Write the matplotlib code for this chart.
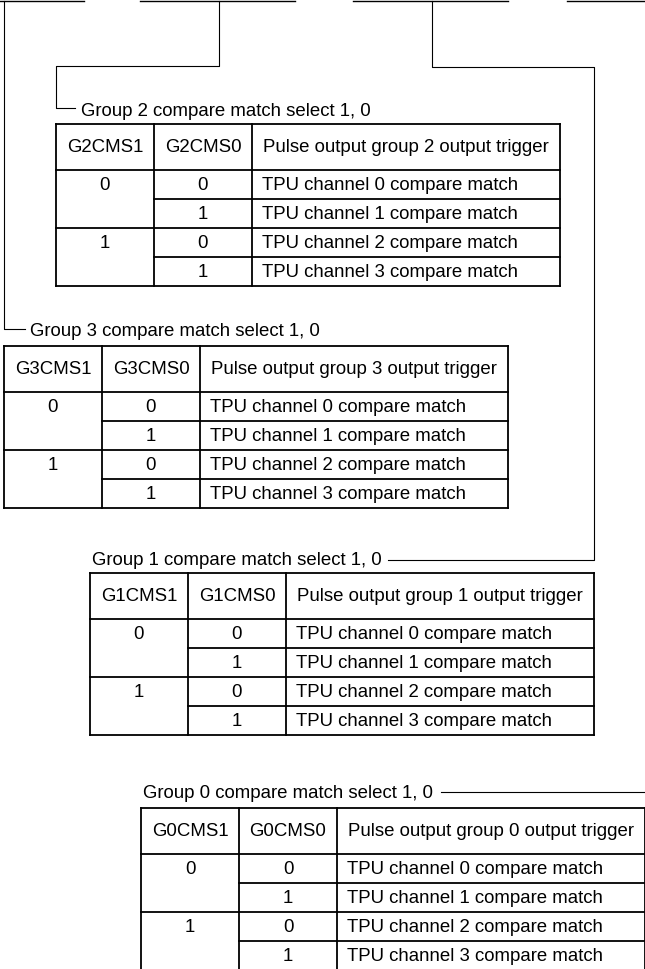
import matplotlib.pyplot as plt

plt.rcParams['font.family'] = ['Liberation Sans', 'DejaVu Sans']

# table contents
groups = [2, 3, 1, 0]
cms1_values = ['0', '', '1', '']
cms0_values = ['0', '1', '0', '1']
triggers = ['TPU channel 0 compare match',
            'TPU channel 1 compare match',
            'TPU channel 2 compare match',
            'TPU channel 3 compare match']

# layout (pixels, origin top-left)
table_left = {2: 56, 3: 4, 1: 90, 0: 141}
table_top = {2: 125, 3: 347, 1: 574, 0: 809}
label_pos = {2: (81, 111), 3: (30, 332), 1: (92, 561), 0: (143, 794)}
col_w = [98, 98, 308]
head_h = 46
row_h = 29

fs = 13.4
lw_tab = 1.3
lw_con = 0.8

fig = plt.figure(figsize=(6.45, 9.70), dpi=100)
ax = fig.add_axes([0, 0, 1, 1])
ax.set_xlim(0, 645)
ax.set_ylim(970, 0)
ax.axis('off')


def line(xs, ys, lw=lw_con):
    ax.plot(xs, ys, color='black', lw=lw, solid_capstyle='projecting')


def draw_table(g):
    x0 = table_left[g]
    y0 = table_top[g]
    xs = [x0, x0 + col_w[0], x0 + col_w[0] + col_w[1], x0 + sum(col_w)]
    ys = [y0, y0 + head_h] + [y0 + head_h + row_h * (i + 1) for i in range(4)]
    # outer box and column lines
    for x in xs:
        line([x, x], [ys[0], ys[-1]], lw_tab)
    line([xs[0], xs[-1]], [ys[0], ys[0]], lw_tab)
    line([xs[0], xs[-1]], [ys[1], ys[1]], lw_tab)
    line([xs[0], xs[-1]], [ys[3], ys[3]], lw_tab)
    line([xs[0], xs[-1]], [ys[-1], ys[-1]], lw_tab)
    line([xs[1], xs[-1]], [ys[2], ys[2]], lw_tab)
    line([xs[1], xs[-1]], [ys[4], ys[4]], lw_tab)
    # header
    hy = (ys[0] + ys[1]) / 2
    ax.text((xs[0] + xs[1]) / 2, hy, 'G%dCMS1' % g, ha='center', va='center', fontsize=fs)
    ax.text((xs[1] + xs[2]) / 2, hy, 'G%dCMS0' % g, ha='center', va='center', fontsize=fs)
    ax.text((xs[2] + xs[3]) / 2, hy, 'Pulse output group %d output trigger' % g,
            ha='center', va='center', fontsize=fs)
    for i in range(4):
        ry = (ys[i + 1] + ys[i + 2]) / 2
        ax.text((xs[0] + xs[1]) / 2, ry, cms1_values[i], ha='center', va='center', fontsize=fs)
        ax.text((xs[1] + xs[2]) / 2, ry, cms0_values[i], ha='center', va='center', fontsize=fs)
        ax.text(xs[2] + 10, ry, triggers[i], ha='left', va='center', fontsize=fs)
    lx, lyy = label_pos[g]
    ax.text(lx, lyy, 'Group %d compare match select 1, 0' % g, ha='left', va='center', fontsize=fs)


for g in groups:
    draw_table(g)

# register bit lines at top
for a, b in [(0, 84), (140, 295), (353, 508), (567, 645)]:
    line([a, b], [2, 2], 1.0)

# connectors
line([219, 219, 56, 56, 75], [2, 67, 67, 109, 109])
line([4, 4, 25], [2, 330, 330])
line([432, 432, 594, 594, 388], [2, 68, 68, 561, 561])
line([441, 645], [793, 793])

fig.savefig('out.png', dpi=100, facecolor='white')
